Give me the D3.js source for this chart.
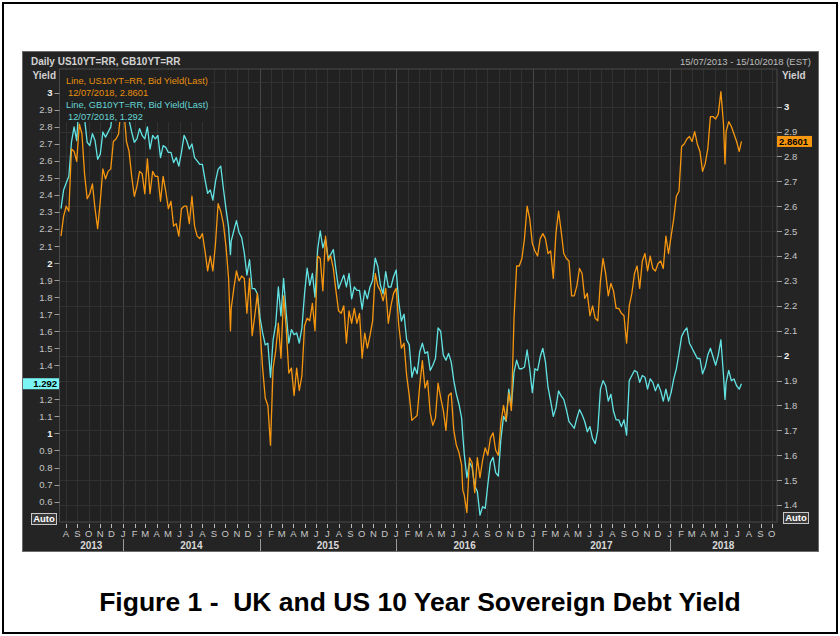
<!DOCTYPE html>
<html><head><meta charset="utf-8">
<script src="https://cdn.jsdelivr.net/npm/d3@7"></script>
<style>
body{margin:0;background:#fff;}
svg{display:block;}
</style></head>
<body><svg id="c" width="840" height="636"></svg>
<script>
// ---- Weekly (Friday) closes, US 10Y (right axis) ----
const us2013 = [2.48,2.56, 2.60,2.58,2.83,2.82,2.78, 2.93,2.89,2.73,2.63, 2.65,2.69,2.59,2.51, 2.62,2.75,2.71,2.74,2.75, 2.86,2.87,2.89,3.00];
const us2014 = [2.99,2.86,2.82,2.72,2.64, 2.68,2.74,2.73,2.65, 2.79,2.65,2.74,2.72, 2.72,2.62,2.72,2.66, 2.59,2.62,2.52,2.53,2.48, 2.59,2.60,2.60,2.53, 2.64,2.52,2.48,2.47, 2.49,2.42,2.34,2.40,2.34, 2.45,2.61,2.58,2.53, 2.44,2.31,2.19,2.27,2.34, 2.30,2.32,2.31,2.17, 2.31,2.08,2.16,2.25];
const us2015 = [2.11,1.95,1.83,1.80,1.64, 1.95,2.02,2.13,1.99, 2.24,2.11,1.93,1.95, 1.84,1.95,1.86,1.92, 2.12,2.15,2.14,2.21,2.10, 2.40,2.39,2.26,2.48, 2.38,2.40,2.35,2.26,2.18, 2.17,2.20,2.05,2.18, 2.13,2.19,2.13,2.17, 1.99,2.09,2.03,2.08,2.14, 2.33,2.28,2.26,2.22, 2.27,2.13,2.20,2.25];
const us2016 = [2.27,2.12,2.03,2.05,1.92, 1.84,1.74,1.75,1.76, 1.88,1.98,1.87,1.90, 1.77,1.72,1.75,1.89,1.83, 1.78,1.70,1.84,1.85, 1.70,1.64,1.61,1.56, 1.44,1.37,1.59,1.57,1.45, 1.59,1.51,1.58,1.63, 1.60,1.67,1.69,1.62,1.60, 1.73,1.80,1.74,1.85, 1.78,2.15,2.36,2.36, 2.39,2.47,2.60,2.55,2.45];
const us2017 = [2.42,2.40,2.47,2.49, 2.47,2.41,2.42,2.31, 2.49,2.58,2.50,2.41,2.39, 2.38,2.24,2.24,2.28, 2.35,2.33,2.23,2.25, 2.16,2.20,2.15,2.14,2.30, 2.39,2.33,2.24,2.29, 2.26,2.19,2.19,2.17, 2.16,2.05,2.20,2.25,2.33, 2.36,2.27,2.38,2.41, 2.34,2.40,2.35,2.34, 2.37,2.38,2.35,2.48,2.41];
const us2018 = [2.48,2.55,2.64,2.66, 2.84,2.85,2.87,2.88, 2.86,2.90,2.85,2.82,2.74, 2.77,2.83,2.96,2.96, 2.95,2.97,3.06,2.93, 2.90,2.94,2.92,2.89,2.86, 2.82];

// ---- Weekly (Friday) closes, UK 10Y (left axis) ----
const uk2013 = [2.32,2.43, 2.47,2.51,2.71,2.80,2.72, 2.98,2.90,2.85,2.71, 2.69,2.76,2.72,2.61, 2.64,2.77,2.74,2.77,2.80, 2.92,2.86,2.90,3.02];
const uk2014 = [3.01,2.89,2.84,2.77,2.71, 2.73,2.79,2.75,2.73, 2.80,2.67,2.75,2.73, 2.75,2.62,2.69,2.68, 2.65,2.65,2.59,2.62,2.57, 2.65,2.75,2.72,2.67, 2.70,2.62,2.60,2.58, 2.58,2.49,2.41,2.43,2.37, 2.48,2.55,2.57,2.44, 2.32,2.21,2.13,2.19,2.25, 2.18,2.15,2.06,1.93, 2.02,1.85,1.85,1.82];
const uk2015 = [1.68,1.59,1.52,1.53,1.33, 1.55,1.64,1.86,1.69, 1.91,1.71,1.53,1.61, 1.58,1.59,1.53,1.62, 1.82,1.97,1.87,1.94,1.80, 2.08,2.19,2.09,2.14, 2.03,2.05,2.08,1.96,1.85, 1.89,1.93,1.86,1.94, 1.79,1.86,1.84,1.84, 1.73,1.84,1.79,1.86,1.90, 2.03,1.98,1.87,1.82, 1.95,1.86,1.86,1.92];
const uk2016 = [1.96,1.77,1.66,1.70,1.55, 1.52,1.33,1.39,1.35, 1.48,1.53,1.47,1.48, 1.37,1.40,1.44,1.62,1.60, 1.46,1.43,1.47,1.42, 1.31,1.23,1.17,1.09, 0.88,0.74,0.83,0.80,0.69, 0.66,0.52,0.57,0.56, 0.70,0.83,0.86,0.77,0.75, 0.97,1.10,1.07,1.26, 1.16,1.36,1.43,1.38, 1.38,1.39,1.49,1.38,1.24];
const uk2017 = [1.38,1.37,1.45,1.50, 1.42,1.27,1.19,1.10, 1.15,1.25,1.22,1.20,1.14, 1.07,1.05,1.03,1.09, 1.14,1.11,1.07,1.01, 1.04,0.97,0.94,1.02,1.26, 1.31,1.28,1.19,1.23, 1.13,1.08,1.08,1.04, 1.08,0.99,1.31,1.34,1.37, 1.36,1.30,1.34,1.33, 1.26,1.32,1.30,1.25, 1.29,1.25,1.19,1.26,1.19];
const uk2018 = [1.24,1.32,1.38,1.47, 1.57,1.60,1.62,1.53, 1.50,1.47,1.44,1.44,1.35, 1.39,1.46,1.50,1.45, 1.40,1.46,1.55,1.34, 1.30,1.37,1.31,1.32,1.28, 1.26];

// ---- Extra daily points (spikes) and last value ----
const extraDates = ["2013-12-31","2014-10-15","2016-06-27","2018-05-29","2018-07-12"];
const extraUS    = [3.03, 2.10, 1.46, 2.77, 2.8601];
const extraUK    = [3.02, 2.05, 0.99, 1.20, 1.292];

const leftTicks  = [0.6,0.7,0.8,0.9,1,1.1,1.2,1.3,1.4,1.5,1.6,1.7,1.8,1.9,2,2.1,2.2,2.3,2.4,2.5,2.6,2.7,2.8,2.9,3];
const rightTicks = [1.4,1.5,1.6,1.7,1.8,1.9,2,2.1,2.2,2.3,2.4,2.5,2.6,2.7,2.8,2.9,3];
const gridTicks  = [1.4,1.5,1.6,1.7,1.8,1.9,2,2.1,2.2,2.3,2.4,2.5,2.6,2.7,2.8,2.9,3,3.1];
const monthLetters = ["J","F","M","A","M","J","J","A","S","O","N","D"];
const years = [2013,2014,2015,2016,2017,2018];

const parse = d3.timeParse("%Y-%m-%d");
const fridays = d3.timeFriday.range(new Date(2013,6,16), new Date(2018,6,7));
const usAll = [].concat(us2013,us2014,us2015,us2016,us2017,us2018);
const ukAll = [].concat(uk2013,uk2014,uk2015,uk2016,uk2017,uk2018);
let data = fridays.map((d,i)=>({date:d, us:usAll[i], uk:ukAll[i]})).filter(d=>d.us!=null&&d.uk!=null);
extraDates.forEach((s,i)=>data.push({date:parse(s), us:extraUS[i], uk:extraUK[i]}));
data.sort((a,b)=>a.date-b.date);

const svg = d3.select("#c");
const L=59.5, R=777, T=69, B=522;
const domStart = new Date(2013,6,15), domEnd = new Date(2018,9,15);
const x = d3.scaleTime().domain([domStart, domEnd]).range([L,R]);
const yL = d3.scaleLinear().domain([0.48,3.14]).range([B,T]);
const yR = d3.scaleLinear().domain([1.332,3.151]).range([B,T]);
const lastUK = extraUK[extraUK.length-1], lastUS = extraUS[extraUS.length-1];

// outer frame
svg.append("rect").attr("x",3).attr("y",3).attr("width",834).attr("height",630)
  .attr("fill","#fff").attr("stroke","#000").attr("stroke-width",2);
// dark panel
svg.append("rect").attr("x",22.5).attr("y",51.5).attr("width",796).attr("height",500)
  .attr("fill","#242424").attr("stroke","#6a6a6a").attr("stroke-width",1);
// plot area
svg.append("rect").attr("x",L).attr("y",T).attr("width",R-L).attr("height",B-T)
  .attr("fill","#212121");

// grid
const months = d3.timeMonth.range(new Date(2013,7,1), new Date(2018,9,2));
svg.append("g").selectAll("line").data(months).join("line")
  .attr("x1",d=>Math.round(x(d))+0.5).attr("x2",d=>Math.round(x(d))+0.5)
  .attr("y1",T).attr("y2",B)
  .attr("stroke",d=>d.getMonth()===0?"#474747":"#313131").attr("stroke-width",1);
svg.append("g").selectAll("line").data(gridTicks).join("line")
  .attr("x1",L).attr("x2",R)
  .attr("y1",d=>Math.round(yR(d))+0.5).attr("y2",d=>Math.round(yR(d))+0.5)
  .attr("stroke","#313131").attr("stroke-width",1);

// plot border
svg.append("rect").attr("x",L).attr("y",T).attr("width",R-L).attr("height",B-T)
  .attr("fill","none").attr("stroke","#4a4a4a");

// clip
svg.append("clipPath").attr("id","clip").append("rect")
  .attr("x",L).attr("y",T).attr("width",R-L).attr("height",B-T);

const lineUK = d3.line().x(d=>x(d.date)).y(d=>yL(d.uk));
const lineUS = d3.line().x(d=>x(d.date)).y(d=>yR(d.us));
const gl = svg.append("g").attr("clip-path","url(#clip)");
gl.append("path").datum(data).attr("d",lineUK).attr("fill","none")
  .attr("stroke","#62e4e4").attr("stroke-width",1.3).attr("stroke-linejoin","round");
gl.append("path").datum(data).attr("d",lineUS).attr("fill","none")
  .attr("stroke","#f7960f").attr("stroke-width",1.3).attr("stroke-linejoin","round");

// legend box (covers lines)
svg.append("rect").attr("x",L+1).attr("y",T+1).attr("width",150).attr("height",52).attr("fill","#212121");
const lg = svg.append("g").style("font-family","'Liberation Sans',Arial,sans-serif").style("font-size","9.3px");
lg.append("text").attr("x",66).attr("y",83.5).attr("fill","#e8900e").text("Line, US10YT=RR, Bid Yield(Last)");
lg.append("text").attr("x",68).attr("y",95.5).attr("fill","#e8900e").text("12/07/2018, 2.8601");
lg.append("text").attr("x",66).attr("y",107.5).attr("fill","#66d6d6").text("Line, GB10YT=RR, Bid Yield(Last)");
lg.append("text").attr("x",68).attr("y",119.5).attr("fill","#66d6d6").text("12/07/2018, 1.292");

// header
const font = "'Liberation Sans',Arial,sans-serif";
svg.append("text").attr("x",31).attr("y",64.5).attr("fill","#d2d2d2").style("font-family",font)
  .style("font-size","10px").style("font-weight","bold").text("Daily US10YT=RR, GB10YT=RR");
svg.append("text").attr("x",811).attr("y",64.5).attr("text-anchor","end").attr("fill","#bdbdbd").style("font-family",font)
  .style("font-size","9.5px").text("15/07/2013 - 15/10/2018 (EST)");
svg.append("text").attr("x",56).attr("y",78.5).attr("text-anchor","end").attr("fill","#d2d2d2").style("font-family",font)
  .style("font-size","10px").style("font-weight","bold").text("Yield");
svg.append("text").attr("x",782).attr("y",78.5).attr("fill","#d2d2d2").style("font-family",font)
  .style("font-size","10px").style("font-weight","bold").text("Yield");

const fmt = v => Number.isInteger(v) ? String(v) : v.toFixed(1);
// left axis (labels hidden under the last-value box are not shown, as in the original)
const leftShown = leftTicks.filter(v => Math.abs(yL(v) - yL(lastUK)) > 9);
const gL = svg.append("g").style("font-family",font).style("font-size","9.5px");
gL.selectAll("line").data(leftTicks).join("line")
  .attr("x1",L-5).attr("x2",L).attr("y1",d=>Math.round(yL(d))+0.5).attr("y2",d=>Math.round(yL(d))+0.5)
  .attr("stroke","#9a9a9a");
gL.selectAll("text").data(leftShown).join("text")
  .attr("x",L-7).attr("y",d=>yL(d)+3.4).attr("text-anchor","end")
  .attr("fill",d=>Number.isInteger(d)?"#f0f0f0":"#c4c4c4")
  .style("font-weight",d=>Number.isInteger(d)?"bold":"normal").text(fmt);
// right axis
const rightShown = rightTicks.filter(v => Math.abs(yR(v) - yR(lastUS)) > 9);
const gR = svg.append("g").style("font-family",font).style("font-size","9.5px");
gR.selectAll("line").data(rightTicks).join("line")
  .attr("x1",R).attr("x2",R+5).attr("y1",d=>Math.round(yR(d))+0.5).attr("y2",d=>Math.round(yR(d))+0.5)
  .attr("stroke","#9a9a9a");
gR.selectAll("text").data(rightShown).join("text")
  .attr("x",R+7).attr("y",d=>yR(d)+3.4)
  .attr("fill",d=>Number.isInteger(d)?"#f0f0f0":"#c4c4c4")
  .style("font-weight",d=>Number.isInteger(d)?"bold":"normal").text(fmt);

// value boxes
svg.append("rect").attr("x",23).attr("y",yL(lastUK)-5.5).attr("width",36).attr("height",11).attr("fill","#7af4f4");
svg.append("text").attr("x",57).attr("y",yL(lastUK)+3.5).attr("text-anchor","end").style("font-family",font)
  .style("font-size","9.5px").style("font-weight","bold").attr("fill","#000").text(String(lastUK));
svg.append("rect").attr("x",777).attr("y",yR(lastUS)-5.5).attr("width",35).attr("height",11).attr("fill","#f7960f");
svg.append("text").attr("x",779).attr("y",yR(lastUS)+3.5).style("font-family",font)
  .style("font-size","9.5px").style("font-weight","bold").attr("fill","#000").text(String(lastUS));

// Auto boxes
[[31,513],[783,512]].forEach(([ax,ay])=>{
  svg.append("rect").attr("x",ax+0.5).attr("y",ay+0.5).attr("width",25).attr("height",11)
    .attr("fill","#3a3a3a").attr("stroke","#c8c8c8");
  svg.append("text").attr("x",ax+13).attr("y",ay+9.3).attr("text-anchor","middle").style("font-family",font)
    .style("font-size","9.5px").style("font-weight","bold").attr("fill","#fff").text("Auto");
});

// bottom axis
const gB = svg.append("g").style("font-family",font).style("font-size","9.5px");
gB.selectAll("line").data(months).join("line")
  .attr("x1",d=>Math.round(x(d))+0.5).attr("x2",d=>Math.round(x(d))+0.5)
  .attr("y1",B+2).attr("y2",B+6).attr("stroke","#bbb");
gB.selectAll("text").data(months).join("text")
  .attr("x",d=>x(d)).attr("y",536.5).attr("text-anchor","middle").attr("fill","#c8c8c8")
  .text(d=>monthLetters[d.getMonth()]);
const gY = svg.append("g").style("font-family",font).style("font-size","10px").style("font-weight","bold");
gY.selectAll("text").data(years).join("text")
  .attr("x",yr=>{const a=Math.max(x(new Date(yr,0,1)),L), b=Math.min(x(new Date(yr+1,0,1)),R); return (a+b)/2;})
  .attr("y",549).attr("text-anchor","middle").attr("fill","#d8d8d8").text(d=>d);
gY.selectAll("line").data(years.slice(1)).join("line")
  .attr("x1",yr=>Math.round(x(new Date(yr,0,1)))+0.5).attr("x2",yr=>Math.round(x(new Date(yr,0,1)))+0.5)
  .attr("y1",539).attr("y2",551).attr("stroke","#9a9a9a");

// title
svg.append("text").attr("x",420).attr("y",611).attr("text-anchor","middle")
  .style("white-space","pre").attr("xml:space","preserve")
  .style("font-family","'Liberation Sans',Arial,sans-serif").style("font-size","26.5px").style("font-weight","bold")
  .attr("fill","#000").text("Figure 1 -  UK and US 10 Year Sovereign Debt Yield");
</script>
</body></html>
